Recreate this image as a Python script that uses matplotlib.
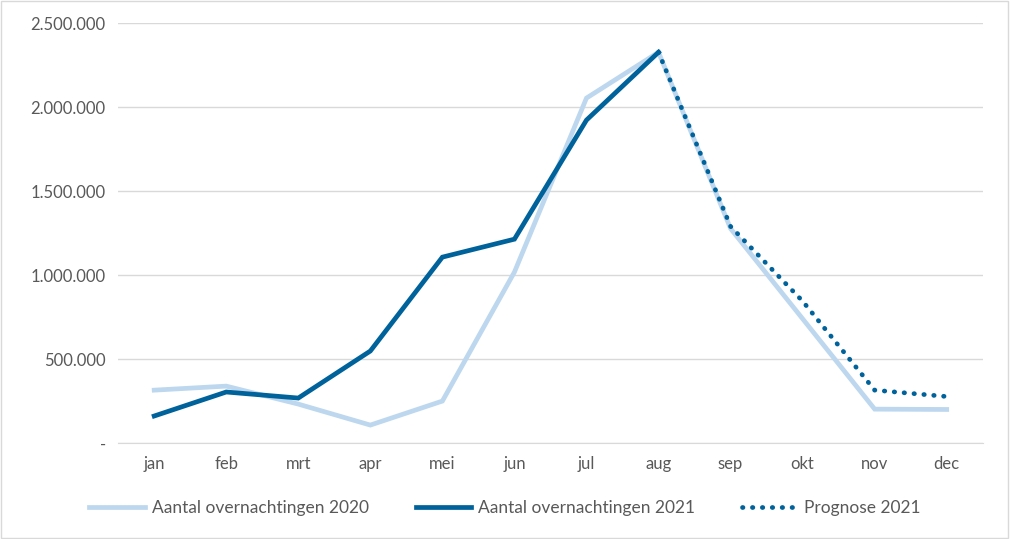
import matplotlib
matplotlib.use("Agg")
import matplotlib.pyplot as plt
from matplotlib.ticker import FuncFormatter, MultipleLocator
from matplotlib.patches import Rectangle

maanden = ["jan", "feb", "mrt", "apr", "mei", "jun", "jul", "aug", "sep", "okt", "nov", "dec"]
overnachtingen_2020 = [315000, 339000, 232000, 107000, 250000, 1018000, 2054000, 2327000,
                       1277000, 740000, 202000, 200000]
overnachtingen_2021 = [161000, 304000, 268000, 548000, 1107000, 1214000, 1923000, 2327000]
prognose_maanden = ["aug", "sep", "okt", "nov", "dec"]
prognose_2021 = [2327000, 1290000, 845000, 315000, 277000]

licht = "#BDD7EE"
donker = "#00629B"
grijs = "#595959"

plt.rcParams["font.family"] = ["Lato", "DejaVu Sans"]

fig = plt.figure(figsize=(10.1, 5.39), dpi=100)
ax = fig.add_axes([0.117, 0.178, 0.856, 0.779])

x_all = list(range(len(maanden)))
x_2021 = x_all[:len(overnachtingen_2021)]
x_prog = [maanden.index(m) for m in prognose_maanden]

ax.plot(x_all, overnachtingen_2020, color=licht, lw=3.4, solid_joinstyle="miter",
        label="Aantal overnachtingen 2020")
ax.plot(x_2021, overnachtingen_2021, color=donker, lw=3.4, solid_joinstyle="miter",
        label="Aantal overnachtingen 2021")
ax.plot(x_prog, prognose_2021, color=donker, lw=3.4, linestyle=(0, (0.1, 2.0)),
        dash_capstyle="round", label="Prognose 2021")

ax.set_xlim(-0.5, 11.5)
ax.set_ylim(0, 2500000)
ax.yaxis.set_major_locator(MultipleLocator(500000))
ax.yaxis.set_major_formatter(FuncFormatter(
    lambda v, p: "-" if v == 0 else f"{int(v):,}".replace(",", ".")))
ax.set_xticks(x_all)
ax.set_xticklabels(maanden)

ax.grid(axis="y", color="#D9D9D9", lw=1)
ax.set_axisbelow(True)
for s in ["top", "right", "left"]:
    ax.spines[s].set_visible(False)
ax.spines["bottom"].set_color("#D9D9D9")
ax.tick_params(axis="both", length=0, colors=grijs, labelsize=12)
ax.tick_params(axis="x", pad=9)
ax.tick_params(axis="y", pad=9)

leg = fig.legend(loc="center", bbox_to_anchor=(0.5, 0.057), ncol=3, frameon=False,
                 fontsize=12.5, handlelength=3.2, columnspacing=2.7, handletextpad=0.4)
for t in leg.get_texts():
    t.set_color(grijs)

fig.patches.append(Rectangle((0.001, 0.002), 0.997, 0.996, transform=fig.transFigure,
                             fill=False, edgecolor="#D9D9D9", lw=1))

fig.savefig("out.png", dpi=100)
